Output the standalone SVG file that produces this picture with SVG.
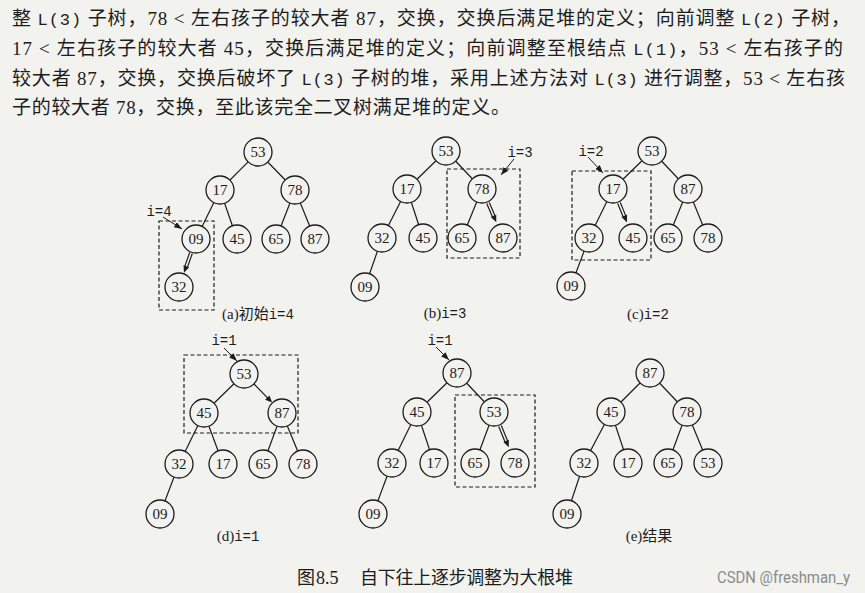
<svg xmlns="http://www.w3.org/2000/svg" width="865" height="593" viewBox="0 0 865 593">
<style>
.bg{fill:#f2f2ef}
.para{font-family:"Liberation Serif","Noto Sans CJK SC",serif;font-size:19px;fill:#1c1c1c}
.mono{font-family:"Liberation Mono","Noto Sans CJK SC",monospace;font-size:17px}
.e{stroke:#1c1c1c;stroke-width:1.2;fill:none}
.n{fill:#f2f2ef;stroke:#1c1c1c;stroke-width:1.3}
.t{font-family:"Liberation Serif",serif;font-size:15px;fill:#1c1c1c;text-anchor:middle}
.box{fill:none;stroke:#1c1c1c;stroke-width:1.2;stroke-dasharray:4 2.5}
.ptr{stroke:#1c1c1c;stroke-width:1;fill:none;marker-end:url(#ah)}
.ah{fill:#1c1c1c}
.lbl{font-family:"Liberation Mono",monospace;font-size:14px;fill:#1c1c1c;text-anchor:middle}
.cap{font-family:"Liberation Serif","Noto Sans CJK SC",serif;font-size:15px;fill:#1c1c1c;text-anchor:middle}
.capm{font-family:"Liberation Mono",monospace;font-size:14px}
.main{font-family:"Liberation Serif","Noto Sans CJK SC",serif;font-size:18px;fill:#1c1c1c}
.wm{font-family:"Roboto","Liberation Sans",sans-serif;font-size:16px;fill:#8a8a8a}
</style>
<defs>
<marker id="ah" markerUnits="userSpaceOnUse" markerWidth="8" markerHeight="6" refX="8" refY="3" orient="auto">
<path d="M0,0 L8,3 L0,6 z" fill="#1c1c1c"/>
</marker>
</defs>
<rect class="bg" x="0" y="0" width="865" height="593"/>

<g id="paragraph">
<text class="para" x="12" y="25" textLength="838" lengthAdjust="spacing">整 <tspan class="mono">L(3)</tspan> 子树，78 &lt; 左右孩子的较大者 87，交换，交换后满足堆的定义；向前调整 <tspan class="mono">L(2)</tspan> 子树，</text>
<text class="para" x="12" y="55" textLength="831" lengthAdjust="spacing">17 &lt; 左右孩子的较大者 45，交换后满足堆的定义；向前调整至根结点 <tspan class="mono">L(1)</tspan>，53 &lt; 左右孩子的</text>
<text class="para" x="12" y="85" textLength="833" lengthAdjust="spacing">较大者 87，交换，交换后破坏了 <tspan class="mono">L(3)</tspan> 子树的堆，采用上述方法对 <tspan class="mono">L(3)</tspan> 进行调整，53 &lt; 左右孩</text>
<text class="para" x="12" y="114" textLength="498" lengthAdjust="spacing">子的较大者 78，交换，至此该完全二叉树满足堆的定义。</text>
</g>

<g id="connectors">
<!-- (a) -->
<line class="e" x1="258" y1="152" x2="220" y2="190"/>
<line class="e" x1="258" y1="152" x2="295" y2="190"/>
<line class="e" x1="220" y1="190" x2="196" y2="239"/>
<line class="e" x1="220" y1="190" x2="237" y2="239"/>
<line class="e" x1="295" y1="190" x2="276" y2="239"/>
<line class="e" x1="295" y1="190" x2="315" y2="239"/>
<g transform="translate(191,253) rotate(109.5)"><line class="e" x1="0" y1="-1.4" x2="15" y2="-1.4"/><line class="e" x1="0" y1="1.4" x2="15" y2="1.4"/><polygon class="ah" points="21,0 14,-3 14,3"/></g>
<!-- (b) -->
<line class="e" x1="446" y1="151" x2="407" y2="189"/>
<line class="e" x1="446" y1="151" x2="482" y2="189"/>
<line class="e" x1="407" y1="189" x2="382" y2="238"/>
<line class="e" x1="407" y1="189" x2="423" y2="238"/>
<line class="e" x1="482" y1="189" x2="462" y2="238"/>
<line class="e" x1="382" y1="238" x2="365" y2="287"/>
<g transform="translate(488,203) rotate(66.8)"><line class="e" x1="0" y1="-1.4" x2="15" y2="-1.4"/><line class="e" x1="0" y1="1.4" x2="15" y2="1.4"/><polygon class="ah" points="21,0 14,-3 14,3"/></g>
<!-- (c) -->
<line class="e" x1="652" y1="151" x2="613" y2="189"/>
<line class="e" x1="652" y1="151" x2="688" y2="189"/>
<line class="e" x1="613" y1="189" x2="589" y2="238"/>
<line class="e" x1="688" y1="189" x2="668" y2="238"/>
<line class="e" x1="688" y1="189" x2="708" y2="238"/>
<line class="e" x1="589" y1="238" x2="571" y2="286"/>
<g transform="translate(619,203) rotate(67.8)"><line class="e" x1="0" y1="-1.4" x2="15" y2="-1.4"/><line class="e" x1="0" y1="1.4" x2="15" y2="1.4"/><polygon class="ah" points="21,0 14,-3 14,3"/></g>
<!-- (d) -->
<line class="e" x1="244" y1="374" x2="204" y2="413"/>
<line class="e" x1="204" y1="413" x2="179" y2="464"/>
<line class="e" x1="204" y1="413" x2="223" y2="464"/>
<line class="e" x1="282" y1="413" x2="263" y2="464"/>
<line class="e" x1="282" y1="413" x2="303" y2="464"/>
<line class="e" x1="179" y1="464" x2="160" y2="514"/>
<g transform="translate(254,384) rotate(45.7)"><line class="e" x1="0" y1="0" x2="20" y2="0"/><polygon class="ah" points="26,0 19,-3 19,3"/></g>
<!-- middle -->
<line class="e" x1="457" y1="373" x2="417" y2="412"/>
<line class="e" x1="457" y1="373" x2="494" y2="412"/>
<line class="e" x1="417" y1="412" x2="392" y2="463"/>
<line class="e" x1="417" y1="412" x2="434" y2="463"/>
<line class="e" x1="494" y1="412" x2="475" y2="463"/>
<line class="e" x1="392" y1="463" x2="373" y2="514"/>
<g transform="translate(500,426) rotate(67.6)"><line class="e" x1="0" y1="-1.4" x2="17" y2="-1.4"/><line class="e" x1="0" y1="1.4" x2="17" y2="1.4"/><polygon class="ah" points="23,0 16,-3 16,3"/></g>
<!-- (e) -->
<line class="e" x1="650" y1="373" x2="611" y2="412"/>
<line class="e" x1="650" y1="373" x2="687" y2="412"/>
<line class="e" x1="611" y1="412" x2="584" y2="463"/>
<line class="e" x1="611" y1="412" x2="628" y2="463"/>
<line class="e" x1="687" y1="412" x2="668" y2="463"/>
<line class="e" x1="687" y1="412" x2="708" y2="463"/>
<line class="e" x1="584" y1="463" x2="567" y2="514"/>
<!-- pointers -->
<line class="ptr" x1="163" y1="217" x2="182" y2="229"/>
<line class="ptr" x1="514" y1="159" x2="501" y2="175"/>
<line class="ptr" x1="588" y1="157" x2="603" y2="173"/>
<line class="ptr" x1="224" y1="348" x2="237" y2="361"/>
<line class="ptr" x1="436" y1="347" x2="449" y2="360"/>
</g>

<g id="boxes">
<rect class="box" x="159" y="221" width="55" height="89"/>
<rect class="box" x="447" y="169" width="73" height="89"/>
<rect class="box" x="572" y="171" width="79" height="89"/>
<rect class="box" x="184" y="355" width="114" height="78"/>
<rect class="box" x="455" y="395" width="80" height="92"/>
</g>

<g id="tree-a">
<g id="a53"><circle class="n" cx="258" cy="152" r="14"/><text class="t" x="258" y="157">53</text></g>
<g id="a17"><circle class="n" cx="220" cy="190" r="14"/><text class="t" x="220" y="195">17</text></g>
<g id="a78"><circle class="n" cx="295" cy="190" r="14"/><text class="t" x="295" y="195">78</text></g>
<g id="a09"><circle class="n" cx="196" cy="239" r="14"/><text class="t" x="196" y="244">09</text></g>
<g id="a45"><circle class="n" cx="237" cy="239" r="14"/><text class="t" x="237" y="244">45</text></g>
<g id="a65"><circle class="n" cx="276" cy="239" r="14"/><text class="t" x="276" y="244">65</text></g>
<g id="a87"><circle class="n" cx="315" cy="239" r="14"/><text class="t" x="315" y="244">87</text></g>
<g id="a32"><circle class="n" cx="179" cy="287" r="14"/><text class="t" x="179" y="292">32</text></g>
<text class="lbl" x="159" y="216">i=4</text>
<text class="cap" x="258" y="319">(a)初始<tspan class="capm">i=4</tspan></text>
</g>

<g id="tree-b">
<g id="b53"><circle class="n" cx="446" cy="151" r="14"/><text class="t" x="446" y="156">53</text></g>
<g id="b17"><circle class="n" cx="407" cy="189" r="14"/><text class="t" x="407" y="194">17</text></g>
<g id="b78"><circle class="n" cx="482" cy="189" r="14"/><text class="t" x="482" y="194">78</text></g>
<g id="b32"><circle class="n" cx="382" cy="238" r="14"/><text class="t" x="382" y="243">32</text></g>
<g id="b45"><circle class="n" cx="423" cy="238" r="14"/><text class="t" x="423" y="243">45</text></g>
<g id="b65"><circle class="n" cx="462" cy="238" r="14"/><text class="t" x="462" y="243">65</text></g>
<g id="b87"><circle class="n" cx="503" cy="238" r="14"/><text class="t" x="503" y="243">87</text></g>
<g id="b09"><circle class="n" cx="365" cy="287" r="14"/><text class="t" x="365" y="292">09</text></g>
<text class="lbl" x="520" y="157">i=3</text>
<text class="cap" x="445" y="318">(b)<tspan class="capm">i=3</tspan></text>
</g>

<g id="tree-c">
<g id="c53"><circle class="n" cx="652" cy="151" r="14"/><text class="t" x="652" y="156">53</text></g>
<g id="c17"><circle class="n" cx="613" cy="189" r="14"/><text class="t" x="613" y="194">17</text></g>
<g id="c87"><circle class="n" cx="688" cy="189" r="14"/><text class="t" x="688" y="194">87</text></g>
<g id="c32"><circle class="n" cx="589" cy="238" r="14"/><text class="t" x="589" y="243">32</text></g>
<g id="c45"><circle class="n" cx="633" cy="238" r="14"/><text class="t" x="633" y="243">45</text></g>
<g id="c65"><circle class="n" cx="668" cy="238" r="14"/><text class="t" x="668" y="243">65</text></g>
<g id="c78"><circle class="n" cx="708" cy="238" r="14"/><text class="t" x="708" y="243">78</text></g>
<g id="c09"><circle class="n" cx="571" cy="286" r="14"/><text class="t" x="571" y="291">09</text></g>
<text class="lbl" x="591" y="156">i=2</text>
<text class="cap" x="648" y="319">(c)<tspan class="capm">i=2</tspan></text>
</g>

<g id="tree-d">
<g id="d53"><circle class="n" cx="244" cy="374" r="14"/><text class="t" x="244" y="379">53</text></g>
<g id="d45"><circle class="n" cx="204" cy="413" r="14"/><text class="t" x="204" y="418">45</text></g>
<g id="d87"><circle class="n" cx="282" cy="413" r="14"/><text class="t" x="282" y="418">87</text></g>
<g id="d32"><circle class="n" cx="179" cy="464" r="14"/><text class="t" x="179" y="469">32</text></g>
<g id="d17"><circle class="n" cx="223" cy="464" r="14"/><text class="t" x="223" y="469">17</text></g>
<g id="d65"><circle class="n" cx="263" cy="464" r="14"/><text class="t" x="263" y="469">65</text></g>
<g id="d78"><circle class="n" cx="303" cy="464" r="14"/><text class="t" x="303" y="469">78</text></g>
<g id="d09"><circle class="n" cx="160" cy="514" r="14"/><text class="t" x="160" y="519">09</text></g>
<text class="lbl" x="224" y="345">i=1</text>
<text class="cap" x="238" y="541">(d)<tspan class="capm">i=1</tspan></text>
</g>

<g id="tree-m">
<g id="m87"><circle class="n" cx="457" cy="373" r="14"/><text class="t" x="457" y="378">87</text></g>
<g id="m45"><circle class="n" cx="417" cy="412" r="14"/><text class="t" x="417" y="417">45</text></g>
<g id="m53"><circle class="n" cx="494" cy="412" r="14"/><text class="t" x="494" y="417">53</text></g>
<g id="m32"><circle class="n" cx="392" cy="463" r="14"/><text class="t" x="392" y="468">32</text></g>
<g id="m17"><circle class="n" cx="434" cy="463" r="14"/><text class="t" x="434" y="468">17</text></g>
<g id="m65"><circle class="n" cx="475" cy="463" r="14"/><text class="t" x="475" y="468">65</text></g>
<g id="m78"><circle class="n" cx="515" cy="463" r="14"/><text class="t" x="515" y="468">78</text></g>
<g id="m09"><circle class="n" cx="373" cy="514" r="14"/><text class="t" x="373" y="519">09</text></g>
<text class="lbl" x="440" y="345">i=1</text>
</g>

<g id="tree-e">
<g id="e87"><circle class="n" cx="650" cy="373" r="14"/><text class="t" x="650" y="378">87</text></g>
<g id="e45"><circle class="n" cx="611" cy="412" r="14"/><text class="t" x="611" y="417">45</text></g>
<g id="e78"><circle class="n" cx="687" cy="412" r="14"/><text class="t" x="687" y="417">78</text></g>
<g id="e32"><circle class="n" cx="584" cy="463" r="14"/><text class="t" x="584" y="468">32</text></g>
<g id="e17"><circle class="n" cx="628" cy="463" r="14"/><text class="t" x="628" y="468">17</text></g>
<g id="e65"><circle class="n" cx="668" cy="463" r="14"/><text class="t" x="668" y="468">65</text></g>
<g id="e53"><circle class="n" cx="708" cy="463" r="14"/><text class="t" x="708" y="468">53</text></g>
<g id="e09"><circle class="n" cx="567" cy="514" r="14"/><text class="t" x="567" y="519">09</text></g>
<text class="cap" x="649" y="541">(e)结果</text>
</g>

<g id="caption">
<text class="main" x="297" y="584" font-size="17">图</text>
<text class="main" x="316" y="584">8.5</text>
<text class="main" x="360" y="584" textLength="213" lengthAdjust="spacing">自下往上逐步调整为大根堆</text>
<text class="wm" x="717" y="583" textLength="133" lengthAdjust="spacingAndGlyphs">CSDN @freshman_y</text>
</g>
</svg>
